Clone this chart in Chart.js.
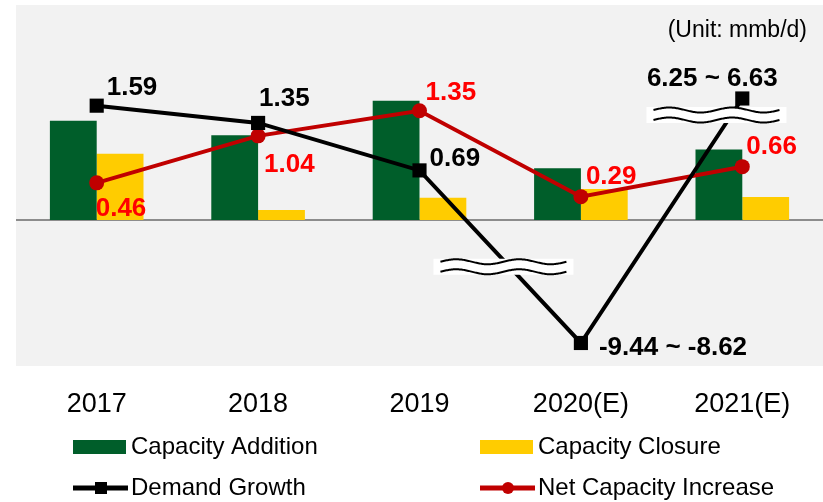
<!DOCTYPE html>
<html>
<head>
<meta charset="utf-8">
<script src="https://cdn.jsdelivr.net/npm/chart.js@4.4.1/dist/chart.umd.min.js"></script>
<style>
  html, body { margin: 0; padding: 0; background: #fff; }
</style>
</head>
<body>
<canvas id="chart" width="823" height="502"></canvas>
<script>
const years = ["2017", "2018", "2019", "2020(E)", "2021(E)"];
const capacityAddition = [1.38, 1.18, 1.66, 0.72, 0.98];
const capacityClosure = [0.92, 0.14, 0.31, 0.43, 0.32];
// 2020(E) and 2021(E) sit on the broken part of the axis
const demandGrowth = [1.59, 1.35, 0.69, -1.71, 1.69];
const demandLabels = ["1.59", "1.35", "0.69", "-9.44 ~ -8.62", "6.25 ~ 6.63"];
const netIncrease = [0.46, 1.04, 1.35, 0.29, 0.66];
const netLabels = ["0.46", "1.04", "1.35", "0.29", "0.66"];
const unitText = "(Unit: mmb/d)";

const FONT = '"Liberation Sans", Arial, sans-serif';

// label placement relative to each point: [dx, dy(baseline), align]
const demandLabelPos = [[10,-11,"left"],[1,-17,"left"],[10,-4,"left"],[18,12,"left"],[-30,-12,"center"]];
const netLabelPos = [[-1,33,"left"],[6,36,"left"],[6,-11,"left"],[5,-13,"left"],[4,-13,"left"]];
// break marks: [x index, y value]
const breakMarks = [[2.52, -0.65], [3.84, 1.46]];

const bgPlugin = {
  id: "bg",
  beforeDraw(chart) {
    const {ctx, chartArea: a} = chart;
    ctx.save();
    ctx.fillStyle = "#F2F2F2";
    ctx.fillRect(a.left, a.top, a.right - a.left, a.bottom - a.top);
    const y0 = chart.scales.y.getPixelForValue(0);
    ctx.strokeStyle = "#8C8C8C";
    ctx.lineWidth = 2;
    ctx.beginPath();
    ctx.moveTo(a.left, y0);
    ctx.lineTo(a.right, y0);
    ctx.stroke();
    ctx.restore();
  }
};

function wave(ctx, x0, x1, y, amp) {
  ctx.beginPath();
  for (let x = x0; x <= x1; x += 1) {
    const t = (x - x0) / (x1 - x0);
    const yy = y - amp * Math.sin(t * Math.PI * 4);
    if (x === x0) ctx.moveTo(x, yy); else ctx.lineTo(x, yy);
  }
  ctx.stroke();
}

const decoPlugin = {
  id: "deco",
  afterDatasetsDraw(chart) {
    const {ctx, scales} = chart;
    const xs = scales.x, ys = scales.y, ys2 = scales.y2;
    ctx.save();
    // axis breaks
    breakMarks.forEach(([xi, yv]) => {
      const cx = xs.getPixelForValue(xi), cy = ys.getPixelForValue(yv);
      ctx.fillStyle = "#fff";
      ctx.fillRect(cx - 70, cy - 8, 140, 16);
      ctx.strokeStyle = "#000";
      ctx.lineWidth = 2;
      wave(ctx, cx - 63, cx + 63, cy - 5, 2.5);
      wave(ctx, cx - 63, cx + 63, cy + 5, 2.5);
    });
    // data labels
    ctx.font = "bold 26px " + FONT;
    ctx.textBaseline = "alphabetic";
    demandGrowth.forEach((v, i) => {
      const [dx, dy, al] = demandLabelPos[i];
      ctx.fillStyle = "#000";
      ctx.textAlign = al;
      ctx.fillText(demandLabels[i], xs.getPixelForValue(i) + dx, ys.getPixelForValue(v) + dy);
    });
    netIncrease.forEach((v, i) => {
      const [dx, dy, al] = netLabelPos[i];
      ctx.fillStyle = "#FF0000";
      ctx.textAlign = al;
      ctx.fillText(netLabels[i], xs.getPixelForValue(i) + dx, ys2.getPixelForValue(v) + dy);
    });
    ctx.restore();
  },
  afterDraw(chart) {
    const {ctx} = chart;
    ctx.save();
    ctx.fillStyle = "#000";
    ctx.font = "23px " + FONT;
    ctx.textAlign = "right";
    ctx.textBaseline = "alphabetic";
    ctx.fillText(unitText, 807, 37);
    // legend, two columns
    ctx.font = "24px " + FONT;
    ctx.textAlign = "left";
    ctx.textBaseline = "middle";
    chart.data.datasets.forEach((ds, i) => {
      const x = i % 2 ? 480 : 73;
      const y = i < 2 ? 447 : 488;
      if (ds.type === "line") {
        ctx.strokeStyle = ds.borderColor;
        ctx.lineWidth = 5;
        ctx.beginPath();
        ctx.moveTo(x, y);
        ctx.lineTo(x + 55, y);
        ctx.stroke();
        ctx.fillStyle = ds.borderColor;
        if (ds.pointStyle === "rect") ctx.fillRect(x + 22, y - 6, 12, 12);
        else { ctx.beginPath(); ctx.arc(x + 28, y, 6, 0, Math.PI * 2); ctx.fill(); }
      } else {
        ctx.fillStyle = ds.backgroundColor;
        ctx.fillRect(x, y - 7, 53, 14);
      }
      ctx.fillStyle = "#000";
      ctx.fillText(ds.label, x + 58, y);
    });
    ctx.restore();
  }
};

new Chart(document.getElementById("chart"), {
  type: "bar",
  data: {
    labels: years,
    datasets: [
      {label: "Capacity Addition", data: capacityAddition, backgroundColor: "#005E2A", yAxisID: "y", order: 2,
       categoryPercentage: 0.58, barPercentage: 1},
      {label: "Capacity Closure", data: capacityClosure, backgroundColor: "#FFCC00", yAxisID: "y", order: 3,
       categoryPercentage: 0.58, barPercentage: 1},
      {type: "line", label: "Demand Growth", data: demandGrowth, yAxisID: "y", order: 0,
       borderColor: "#000", backgroundColor: "#000", borderWidth: 4, pointStyle: "rect",
       pointRadius: 10, pointBackgroundColor: "#000", pointBorderWidth: 0, tension: 0},
      {type: "line", label: "Net Capacity Increase", data: netIncrease, yAxisID: "y2", order: 1,
       borderColor: "#C00000", backgroundColor: "#C00000", borderWidth: 4, pointStyle: "circle",
       pointRadius: 7.5, pointBackgroundColor: "#C00000", pointBorderWidth: 0, tension: 0}
    ]
  },
  options: {
    responsive: false,
    animation: false,
    layout: {autoPadding: false, padding: {left: 16, top: 5, right: 0, bottom: 77}},
    plugins: {legend: {display: false}, tooltip: {enabled: false}},
    scales: {
      x: {
        grid: {display: false, drawTicks: false},
        border: {display: false},
        ticks: {color: "#000", font: {family: FONT, size: 27}, padding: 22, maxRotation: 0},
        afterFit(scale) { scale.height = 59; }
      },
      y: {display: false, min: -2.03, max: 2.99},
      y2: {display: false, min: -1.80, max: 2.655}
    }
  },
  plugins: [bgPlugin, decoPlugin]
});
</script>
</body>
</html>
